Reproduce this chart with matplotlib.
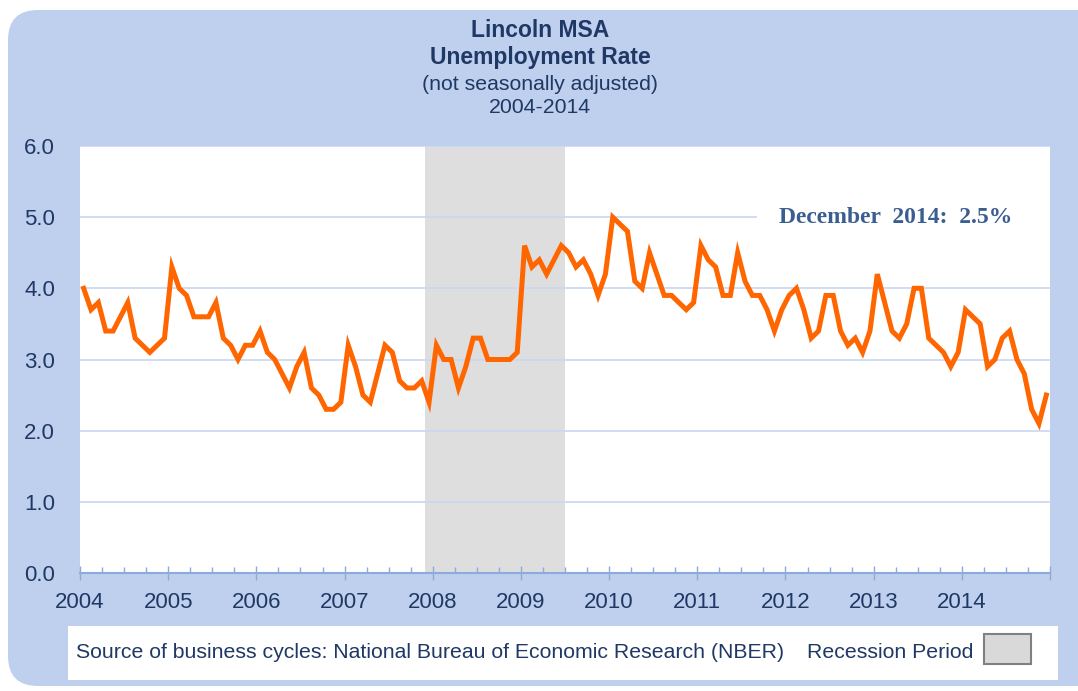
"""Lincoln MSA unemployment rate, 2004-2014, with NBER recession band."""
import matplotlib; matplotlib.use('Agg')
import matplotlib.pyplot as plt
import matplotlib.transforms as mtransforms
from matplotlib.patches import FancyBboxPatch, Rectangle
from matplotlib.ticker import FixedLocator, FuncFormatter
import numpy as np

plt.rcParams.update({
    'font.family': ['Liberation Sans', 'DejaVu Sans'],
    'font.size': 15,
})

# monthly rates (not seasonally adjusted), Jan..Dec
years = [2004, 2005, 2006, 2007, 2008, 2009, 2010, 2011, 2012, 2013, 2014]
rate_2004 = [4.0, 3.7, 3.8, 3.4, 3.4, 3.6, 3.8, 3.3, 3.2, 3.1, 3.2, 3.3]
rate_2005 = [4.3, 4.0, 3.9, 3.6, 3.6, 3.6, 3.8, 3.3, 3.2, 3.0, 3.2, 3.2]
rate_2006 = [3.4, 3.1, 3.0, 2.8, 2.6, 2.9, 3.1, 2.6, 2.5, 2.3, 2.3, 2.4]
rate_2007 = [3.2, 2.9, 2.5, 2.4, 2.8, 3.2, 3.1, 2.7, 2.6, 2.6, 2.7, 2.4]
rate_2008 = [3.2, 3.0, 3.0, 2.6, 2.9, 3.3, 3.3, 3.0, 3.0, 3.0, 3.0, 3.1]
rate_2009 = [4.6, 4.3, 4.4, 4.2, 4.4, 4.6, 4.5, 4.3, 4.4, 4.2, 3.9, 4.2]
rate_2010 = [5.0, 4.9, 4.8, 4.1, 4.0, 4.5, 4.2, 3.9, 3.9, 3.8, 3.7, 3.8]
rate_2011 = [4.6, 4.4, 4.3, 3.9, 3.9, 4.5, 4.1, 3.9, 3.9, 3.7, 3.4, 3.7]
rate_2012 = [3.9, 4.0, 3.7, 3.3, 3.4, 3.9, 3.9, 3.4, 3.2, 3.3, 3.1, 3.4]
rate_2013 = [4.2, 3.8, 3.4, 3.3, 3.5, 4.0, 4.0, 3.3, 3.2, 3.1, 2.9, 3.1]
rate_2014 = [3.7, 3.6, 3.5, 2.9, 3.0, 3.3, 3.4, 3.0, 2.8, 2.3, 2.1, 2.5]

# NBER recession (year, month)
recession_start = (2007, 12)
recession_end = (2009, 6)

y_ticks = [0, 1, 2, 3, 4, 5, 6]

rates = (rate_2004 + rate_2005 + rate_2006 + rate_2007 + rate_2008 + rate_2009
         + rate_2010 + rate_2011 + rate_2012 + rate_2013 + rate_2014)
idx = np.arange(len(rates))

def month_index(ym):
    return (ym[0] - years[0]) * 12 + ym[1] - 1

W, H = 1078, 691
fig = plt.figure(figsize=(W / 100, H / 100), dpi=100)
fig.patch.set_facecolor('white')

BLUE = '#BFD0EF'
NAVY = '#1F3864'
AXIS = '#8EA9DB'
GRID = '#C9D7F1'

# background panel in pixel coords
bg = fig.add_axes([0, 0, 1, 1])
bg.set_xlim(0, W)
bg.set_ylim(H, 0)
bg.axis('off')
bg.add_patch(FancyBboxPatch((8, 10), W + 40, 676, boxstyle='round,pad=0,rounding_size=30',
                            fc=BLUE, ec='none'))
# legend strip
bg.add_patch(Rectangle((68, 626), 990, 54, fc='white', ec='none'))
bg.add_patch(Rectangle((984, 634), 47, 30, fc='#D9D9D9', ec='#808080', lw=1.5))
bg.text(76, 652, 'Source of business cycles: National Bureau of Economic Research (NBER)',
        fontsize=15.3, color=NAVY, ha='left', va='center')
bg.text(973, 652, 'Recession Period', fontsize=15.3, color=NAVY, ha='right', va='center')

# titles
bg.text(540, 30, 'Lincoln MSA', fontsize=16.5, fontweight='bold', color=NAVY,
        ha='center', va='center')
bg.text(540, 57, 'Unemployment Rate', fontsize=16.5, fontweight='bold', color=NAVY,
        ha='center', va='center')
bg.text(540, 84, '(not seasonally adjusted)', fontsize=15.3, color=NAVY,
        ha='center', va='center')
bg.text(540, 107, '2004-2014', fontsize=15.3, color=NAVY, ha='center', va='center')

# main plot
x0, x1, yt, yb = 80, 1050, 146, 573
ax = fig.add_axes([x0 / W, 1 - yb / H, (x1 - x0) / W, (yb - yt) / H])
ax.set_facecolor('white')
ax.set_xlim(-0.5, len(rates) - 0.5)
ax.set_ylim(0, 6)

ax.axvspan(month_index(recession_start) - 0.5, month_index(recession_end) + 0.5,
           color='#DEDEDE', lw=0, zorder=0.2)

ax.set_axisbelow(True)
ax.yaxis.grid(True, color=GRID, lw=1.2)
ax.set_yticks(y_ticks)
ax.yaxis.set_major_formatter(FuncFormatter(lambda v, p: f'{v:.1f}'))
ax.tick_params(axis='y', length=0, pad=18, labelsize=16, labelcolor=NAVY)

ax.plot(idx, rates, color='#FF6600', lw=3.6, solid_joinstyle='miter', zorder=3)

# x axis: category style, year ticks between Dec and Jan
year_edges = [12 * k - 0.5 for k in range(len(years) + 1)]
ax.xaxis.set_major_locator(FixedLocator(year_edges))
ax.set_xticklabels([str(y) for y in years] + [''])
ax.xaxis.set_minor_locator(FixedLocator([3 * k - 0.5 for k in range(len(rates) // 3 + 1)]))
ax.tick_params(axis='x', which='major', direction='inout', length=10, width=1,
               color=AXIS, labelsize=16, labelcolor=NAVY, pad=9)
ax.tick_params(axis='x', which='minor', direction='in', length=4, width=1, color=AXIS)

for s in ['top', 'right', 'left']:
    ax.spines[s].set_visible(False)
ax.spines['bottom'].set_color(AXIS)
ax.spines['bottom'].set_linewidth(1.5)

# white cover behind annotation, over the 5.0 gridline
trans = mtransforms.blended_transform_factory(ax.transAxes, ax.transData)
ax.add_patch(Rectangle(((757 - x0) / (x1 - x0), 4.85), 1 - (757 - x0) / (x1 - x0), 0.3,
                       transform=trans, fc='white', ec='none', zorder=1))
last = rates[-1]
ax.text((896 - x0) / (x1 - x0), 5.0, f'December  2014:  {last}%', transform=trans,
        family=['Liberation Serif', 'DejaVu Serif'], fontweight='bold', fontsize=17,
        color='#3A5E91', ha='center', va='center', zorder=4)

fig.savefig('out.png', dpi=100)
plt.close()
